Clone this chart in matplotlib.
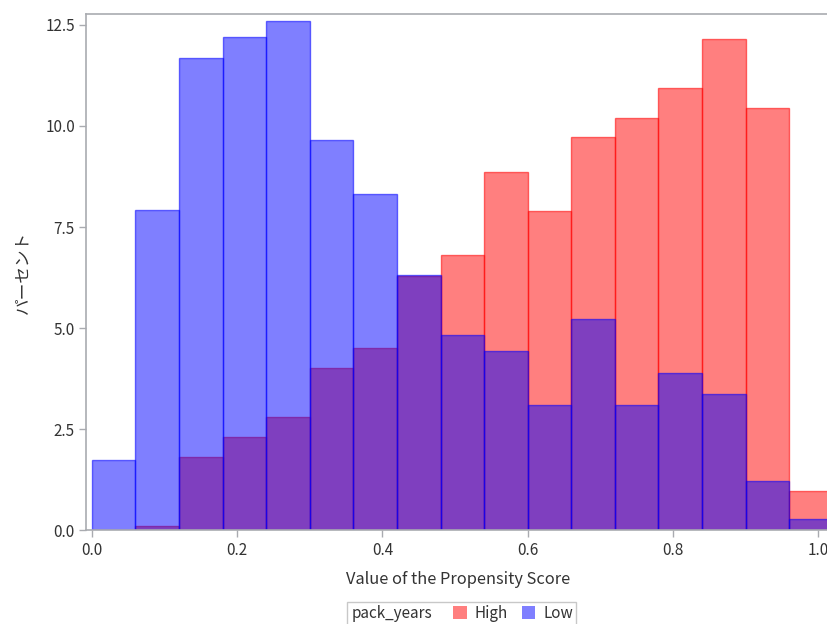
import matplotlib
matplotlib.use("Agg")
import matplotlib.pyplot as plt
from matplotlib.patches import Patch, Rectangle
import numpy as np

plt.rcParams["font.family"] = ["Noto Sans CJK JP", "DejaVu Sans"]

# histogram bins: width 0.06 starting at 0.0
bin_width = 0.06
bin_lefts = np.round(np.arange(17) * bin_width, 2)

# percent of each group per bin
pct_high = [0.0, 0.12, 1.81, 2.31, 2.80, 4.01, 4.50, 6.30, 6.80, 8.86,
            7.90, 9.72, 10.21, 10.93, 12.14, 10.44, 0.98]
pct_low = [1.74, 7.92, 11.67, 12.21, 12.60, 9.65, 8.33, 6.32, 4.83, 4.43,
           3.10, 5.23, 3.10, 3.90, 3.37, 1.21, 0.27]

group_labels = ["High", "Low"]
group_var = "pack_years"

x_ticks = [0.0, 0.2, 0.4, 0.6, 0.8, 1.0]
y_ticks = [0.0, 2.5, 5.0, 7.5, 10.0, 12.5]

fill_high = (1.0, 0.0, 0.0, 0.5)
fill_low = (0.0, 0.0, 1.0, 0.5)
edge_high = (1.0, 0.0, 0.0, 0.55)
edge_low = (0.0, 0.0, 1.0, 0.55)
axis_grey = "#a9abb0"
text_col = "#333333"

fig = plt.figure(figsize=(8.27, 6.24), dpi=100)
ax = fig.add_axes([0.104, 0.15, 0.9, 0.8276])

ax.bar(bin_lefts, pct_high, width=bin_width, align="edge",
       facecolor=fill_high, edgecolor=edge_high, linewidth=1.0)
ax.bar(bin_lefts, pct_low, width=bin_width, align="edge",
       facecolor=fill_low, edgecolor=edge_low, linewidth=1.0)

ax.set_xlim(-0.008, 1.0166)
ax.set_ylim(0, 12.77)
ax.set_xticks(x_ticks)
ax.set_xticklabels([f"{v:.1f}" for v in x_ticks])
ax.set_yticks(y_ticks)
ax.set_yticklabels([f"{v:.1f}" for v in y_ticks])
ax.tick_params(axis="both", direction="out", length=5, width=1,
               color=axis_grey, labelcolor=text_col, labelsize=11, pad=3)

for side in ["left", "top", "bottom", "right"]:
    ax.spines[side].set_color(axis_grey)
    ax.spines[side].set_linewidth(1.2)

ax.set_xlabel("Value of the Propensity Score", fontsize=11.8,
              color=text_col, labelpad=9)
ax.set_ylabel("パーセント", fontsize=12, color=text_col, labelpad=10)

# legend strip below the axis: group variable name, then swatches
frame = Rectangle((347 / 827, 1 - 640 / 624), (576 - 347) / 827, 38 / 624,
                  transform=fig.transFigure, facecolor="white",
                  edgecolor="#c8c8c8", linewidth=1.0, clip_on=False)
fig.add_artist(frame)
fig.text(352 / 827, 1 - 613 / 624, group_var, fontsize=11, color=text_col,
         va="center", ha="left")
handles = [Patch(facecolor=fill_high, edgecolor="none"),
           Patch(facecolor=fill_low, edgecolor="none")]
fig.legend(handles, group_labels, ncol=2, frameon=False, loc="center",
           bbox_to_anchor=(513 / 827, 1 - 613 / 624), fontsize=11,
           handlelength=0.9, handleheight=0.9, handletextpad=0.5,
           columnspacing=0.9, labelcolor=text_col, borderpad=0)

fig.savefig("out.png", dpi=100)
